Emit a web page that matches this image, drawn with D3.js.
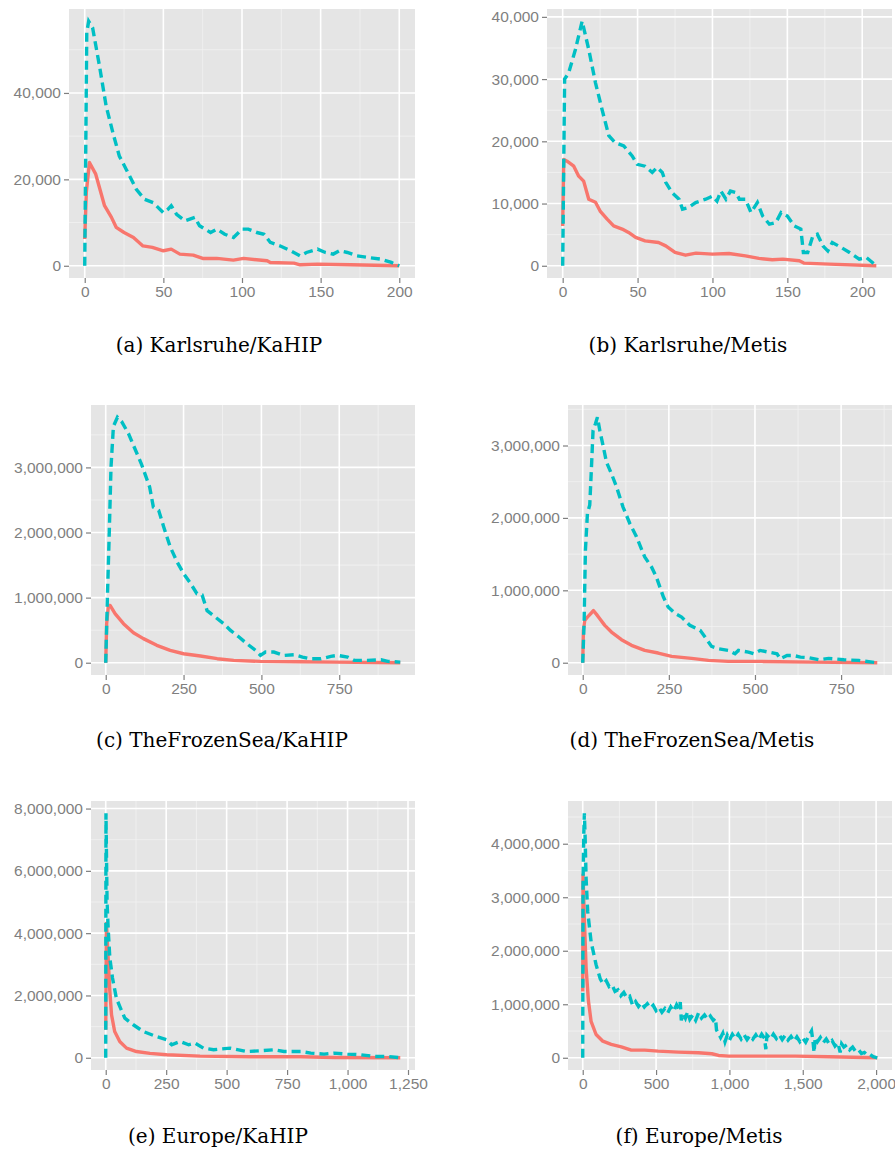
<!DOCTYPE html>
<html>
<head>
<meta charset="utf-8">
<script src="https://cdn.jsdelivr.net/npm/d3@7"></script>
<style>
  body { margin: 0; background: #fff; }
  svg { display: block; }
</style>
</head>
<body>
<svg id="chart" width="895" height="1152"></svg>
<script>
// values: [round, count]
const aRed = [[0,6200],[1,17000],[3,23900],[7,21200],[12.6,13900],[17,11200],[20,8900],[25,7700],[31,6550],[37,4600],[43,4250],[50,3470],[55,3850],[60.5,2700],[69,2470],[75,1700],[84,1700],[94.5,1300],[101,1700],[116,1150],[118,770],[133,620],[137,230],[148,390],[169,230],[200,0]];
const aCyan = [[0,0],[1.3,54000],[2.5,56600],[5,55100],[9.4,46200],[13.6,37000],[17.9,30800],[22,25400],[26.4,22300],[32.8,17700],[38,15400],[43.5,14600],[50,12300],[53,13100],[55,13900],[58.4,11900],[63.7,10400],[70,11200],[73,9250],[80,7700],[84,8480],[89,7300],[94.6,6550],[100,8480],[104,8480],[109.5,7700],[114,7300],[118,5400],[124,4620],[131,3470],[137,2300],[141,3080],[148,3850],[153,3080],[158,2700],[162,3470],[167,3080],[173,2310],[180,1930],[188,1540],[195,770],[200,0]];

const bRed = [[0,6400],[0.7,17100],[2.9,16800],[7.4,16000],[10.7,14400],[14,13600],[17.4,10700],[21.9,10200],[25,8800],[29.7,7500],[34,6400],[39.7,5900],[44,5350],[48.7,4550],[55,4000],[64,3740],[68.8,3200],[75,2140],[82,1700],[89,2030],[100,1870],[111,1980],[122,1600],[131,1180],[140,960],[147,1070],[158,800],[161,430],[178,270],[209.4,0]];
const bCyan = [[0,0],[1.3,30000],[4,31000],[8.5,34760],[13,39300],[17.4,34760],[21.9,29400],[26.3,25100],[30.8,20900],[35,19800],[40.8,19250],[46.4,17650],[49.8,16300],[55,16000],[59.8,15000],[63,15800],[66.5,15000],[68.8,13400],[73,11760],[77.7,10700],[80,9100],[84,9360],[88.8,10160],[95.5,10700],[100,11200],[103,10400],[105.6,12000],[109,10700],[112,12000],[115.6,11760],[118,10700],[122,10700],[125.7,8560],[130,10160],[133.5,8000],[138,6680],[142.4,6950],[145.8,8560],[150,8000],[154.7,6400],[159,5900],[160.7,2140],[163.6,2140],[167,4800],[170,5080],[173.7,3200],[177,2400],[180,3740],[186,2940],[191.5,2140],[198,1070],[202.7,1340],[209.4,0]];

const cRed = [[0,0],[3,600000],[8.6,880000],[14,880000],[30,754000],[57,600000],[89,460000],[121,370000],[164,267000],[207,190000],[250,138000],[304,103000],[358,62000],[411,36000],[497,20000],[626,15000],[734,10000],[946,0]];
const cCyan = [[0,0],[5.4,1010000],[10.7,1880000],[17,3010000],[24.7,3630000],[37.6,3770000],[51.6,3700000],[73,3520000],[89,3340000],[114,3060000],[141,2700000],[153,2390000],[170,2340000],[186,2090000],[207,1780000],[229,1550000],[250,1370000],[272,1220000],[293,1060000],[309.5,1040000],[325.6,800000],[352,700000],[379,600000],[400,500000],[428,395000],[454,290000],[481,190000],[497,113000],[513,164000],[540,164000],[573,113000],[605,123000],[632,87000],[659,60000],[691,60000],[723,97000],[745,113000],[777,87000],[798,36000],[841,36000],[884,46000],[906,20000],[946,10000]];

const dRed = [[0,0],[2,447000],[5.8,585000],[13.6,630000],[25,687000],[31,720000],[40,668000],[49.5,608000],[64,516000],[83.4,424000],[112.5,318000],[141.6,240000],[180,170000],[219,134000],[258,88000],[316,60000],[365,32000],[423,18000],[520,18000],[665,9000],[855,0]];
const dCyan = [[0,0],[3.9,540000],[7.8,1550000],[13.6,2060000],[20.4,2180000],[25,2660000],[30,3210000],[36.9,3300000],[42.7,3390000],[49.5,3210000],[59,3000000],[69,2770000],[83.4,2610000],[98,2430000],[117,2150000],[137,1920000],[156,1740000],[180,1460000],[200,1320000],[214,1180000],[234,910000],[248,770000],[268,680000],[287,630000],[311,516000],[341,447000],[355,355000],[374,226000],[394,194000],[423,170000],[442,124000],[452,170000],[481,147000],[496,124000],[515,170000],[539,147000],[564,124000],[573,55000],[593,100000],[612,100000],[632,78000],[656,69000],[685,41000],[714,60000],[758,41000],[801,32000],[855,0]];

const eRed = [[0,900000],[3,4320000],[10,3200000],[17,2130000],[24,1380000],[37,845000],[58,520000],[86,310000],[127,200000],[183,140000],[252,96000],[390,53000],[598,32000],[806,32000],[945,10000],[1218,0]];
const eCyan = [[0,0],[1,7850000],[3,6600000],[5.5,5000000],[10,4160000],[17,3200000],[28,2560000],[44,1910000],[58,1650000],[79,1270000],[114,1060000],[155,845000],[210,680000],[252,580000],[273,417000],[307,520000],[343,417000],[370,470000],[404,310000],[446,257000],[515,310000],[584,200000],[640,225000],[695,257000],[737,200000],[806,200000],[848,150000],[903,118000],[945,150000],[1000,118000],[1055,96000],[1111,43000],[1166,43000],[1208,10000],[1218,0]];

const fRed = [[0,1240000],[2,3420000],[11,2600000],[23,1680000],[39,1060000],[57,680000],[91,435000],[137,310000],[194,250000],[263,205000],[331,143000],[423,143000],[514,124000],[651,106000],[789,93000],[880,75000],[926,43000],[994,31000],[1223,31000],[1451,31000],[1680,19000],[2008,0]];
// values in millions
const fCyan = [[0,0],[2,3.23],[7,4.16],[11,4.57],[16,4.16],[23,3.35],[34,2.73],[57,2.17],[91,1.74],[120,1.47],[140,1.38],[160,1.44],[180,1.33],[200,1.36],[220,1.24],[240,1.27],[260,1.16],[280,1.22],[300,1.12],[320,1.15],[340,0.98],[360,1.05],[380,0.96],[400,1.03],[420,0.95],[440,1.01],[460,0.93],[480,0.98],[500,0.88],[520,0.94],[540,0.85],[560,0.92],[580,0.84],[600,0.95],[620,0.87],[640,0.99],[655,0.92],[665,1.04],[672,0.70],[685,0.82],[700,0.74],[715,0.86],[730,0.72],[750,0.80],[770,0.70],[790,0.84],[810,0.74],[830,0.80],[850,0.72],[870,0.78],[890,0.70],[905,0.74],[912,0.52],[925,0.46],[940,0.38],[955,0.46],[970,0.30],[985,0.42],[1000,0.33],[1020,0.44],[1040,0.36],[1060,0.44],[1080,0.35],[1100,0.43],[1120,0.34],[1140,0.42],[1160,0.35],[1180,0.43],[1200,0.34],[1220,0.44],[1240,0.36],[1248,0.16],[1256,0.42],[1280,0.35],[1300,0.44],[1320,0.36],[1340,0.43],[1360,0.34],[1380,0.42],[1400,0.33],[1420,0.40],[1440,0.31],[1460,0.39],[1480,0.30],[1500,0.37],[1520,0.29],[1540,0.40],[1560,0.50],[1570,0.30],[1577,0.10],[1585,0.38],[1600,0.30],[1620,0.38],[1640,0.28],[1660,0.35],[1680,0.26],[1700,0.32],[1720,0.22],[1740,0.28],[1755,0.10],[1765,0.26],[1780,0.20],[1800,0.24],[1820,0.15],[1840,0.20],[1860,0.12],[1880,0.15],[1900,0.08],[1920,0.10],[1940,0.05],[1960,0.06],[1980,0.02],[2008,0]].map(p => [p[0], p[1] * 1e6]);

const captions = ["(a) Karlsruhe/KaHIP", "(b) Karlsruhe/Metis",
    "(c) TheFrozenSea/KaHIP", "(d) TheFrozenSea/Metis",
    "(e) Europe/KaHIP", "(f) Europe/Metis"];

const xTickStep = [50, 50, 250, 250, 250, 500];
const yTickStep = [20000, 10000, 1000000, 1000000, 2000000, 1000000];

// layout of each panel (plot area in page pixels)
const panels = [
    {left: 69, top: 9, right: 415, bottom: 278, capX: 219, capY: 352},
    {left: 547, top: 9, right: 892, bottom: 278, capX: 688, capY: 352},
    {left: 91, top: 405, right: 415, bottom: 675, capX: 222, capY: 747},
    {left: 568, top: 405, right: 892, bottom: 675, capX: 692, capY: 747},
    {left: 91, top: 801, right: 415, bottom: 1070, capX: 218, capY: 1143},
    {left: 568, top: 801, right: 892, bottom: 1070, capX: 699, capY: 1143}
];

const series = [[aRed, aCyan], [bRed, bCyan], [cRed, cCyan], [dRed, dCyan], [eRed, eCyan], [fRed, fCyan]];

const svg = d3.select("#chart");
const fmt = d3.format(",");

function expand(lo, hi) {
    let pad = (hi - lo) * 0.05;
    return [lo - pad, hi + pad];
}

function drawPanel(i) {
    let p = panels[i];
    let red = series[i][0], cyan = series[i][1];
    let all = red.concat(cyan);

    let x = d3.scaleLinear()
        .domain(expand(0, d3.max(all, d => d[0])))
        .range([p.left, p.right]);
    let y = d3.scaleLinear()
        .domain(expand(0, d3.max(all, d => d[1])))
        .range([p.bottom, p.top]);

    let g = svg.append("g");

    g.append("rect")
        .attr("x", p.left).attr("y", p.top)
        .attr("width", p.right - p.left).attr("height", p.bottom - p.top)
        .style("fill", "#e5e5e5");

    let xs = xTickStep[i], ys = yTickStep[i];
    let xd = x.domain(), yd = y.domain();
    let xMajor = d3.range(0, xd[1], xs).filter(v => v >= xd[0]);
    let yMajor = d3.range(0, yd[1], ys).filter(v => v >= yd[0]);
    let xMinor = d3.range(-xs / 2, xd[1], xs).filter(v => v >= xd[0]);
    let yMinor = d3.range(-ys / 2, yd[1], ys).filter(v => v >= yd[0]);

    // minor grid
    g.selectAll(".xminor").data(xMinor).enter().append("line")
        .attr("x1", d => x(d)).attr("x2", d => x(d))
        .attr("y1", p.top).attr("y2", p.bottom)
        .style("stroke", "#f2f2f2").style("stroke-width", 0.8);
    g.selectAll(".yminor").data(yMinor).enter().append("line")
        .attr("y1", d => y(d)).attr("y2", d => y(d))
        .attr("x1", p.left).attr("x2", p.right)
        .style("stroke", "#f2f2f2").style("stroke-width", 0.8);

    // major grid
    g.selectAll(".xmajor").data(xMajor).enter().append("line")
        .attr("x1", d => x(d)).attr("x2", d => x(d))
        .attr("y1", p.top).attr("y2", p.bottom)
        .style("stroke", "#ffffff").style("stroke-width", 1.6);
    g.selectAll(".ymajor").data(yMajor).enter().append("line")
        .attr("y1", d => y(d)).attr("y2", d => y(d))
        .attr("x1", p.left).attr("x2", p.right)
        .style("stroke", "#ffffff").style("stroke-width", 1.6);

    // axes
    let xAxis = d3.axisBottom(x).tickValues(xMajor).tickFormat(fmt)
        .tickSizeInner(5).tickSizeOuter(0).tickPadding(3);
    let yAxis = d3.axisLeft(y).tickValues(yMajor).tickFormat(fmt)
        .tickSizeInner(5).tickSizeOuter(0).tickPadding(3);

    let gx = g.append("g").attr("transform", "translate(0," + p.bottom + ")").call(xAxis);
    let gy = g.append("g").attr("transform", "translate(" + p.left + ",0)").call(yAxis);

    [gx, gy].forEach(a => {
        a.select(".domain").remove();
        a.selectAll(".tick line").style("stroke", "#7f7f7f").style("stroke-width", 1.2);
        a.selectAll(".tick text")
            .style("fill", "#7f7f7f")
            .style("font-family", "'Liberation Sans', Arial, sans-serif")
            .style("font-size", "15.5px");
    });

    let line = d3.line().x(d => x(d[0])).y(d => y(d[1]));

    g.append("path")
        .datum(red)
        .attr("d", line)
        .style("fill", "none")
        .style("stroke", "#f8766d")
        .style("stroke-width", 3.4)
        .style("stroke-linejoin", "round");

    g.append("path")
        .datum(cyan)
        .attr("d", line)
        .style("fill", "none")
        .style("stroke", "#00bfc4")
        .style("stroke-width", 3.4)
        .style("stroke-dasharray", "9,5");

    svg.append("text")
        .attr("x", p.capX)
        .attr("y", p.capY)
        .attr("text-anchor", "middle")
        .style("font-family", "'DejaVu Serif', serif")
        .style("font-size", "20px")
        .style("fill", "#000")
        .text(captions[i]);
}

for (let i = 0; i < panels.length; i++) {
    drawPanel(i);
}
</script>
</body>
</html>
